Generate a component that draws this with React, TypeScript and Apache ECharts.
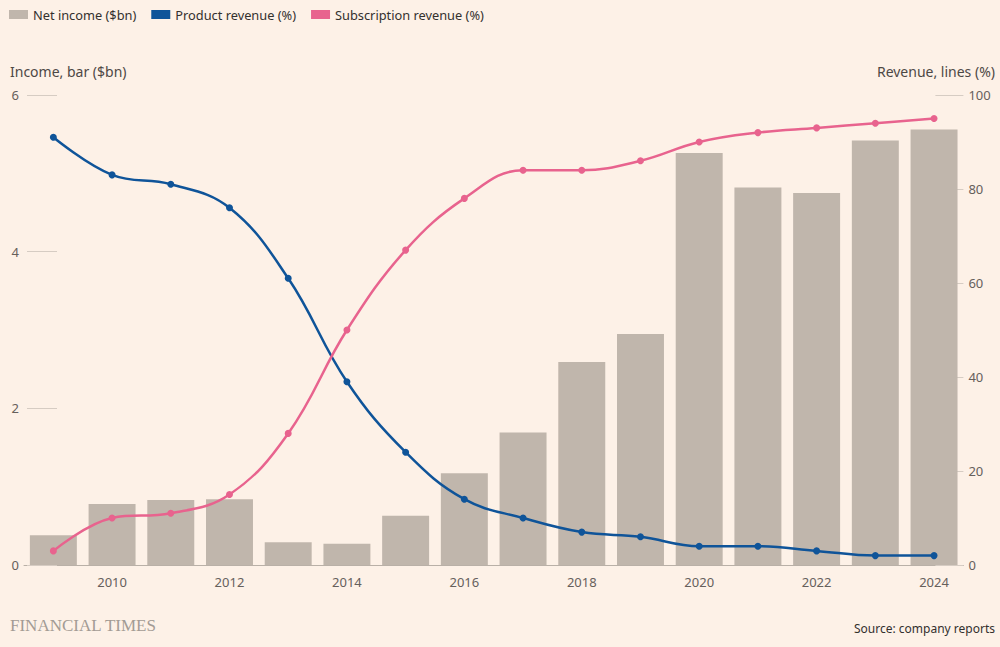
import React, { useEffect, useRef } from "react";
import * as echarts from "echarts";

const years = ["2009","2010","2011","2012","2013","2014","2015","2016","2017","2018","2019","2020","2021","2022","2023","2024"];
const netIncome = [0.38, 0.78, 0.83, 0.84, 0.29, 0.27, 0.63, 1.17, 1.69, 2.59, 2.95, 5.26, 4.82, 4.75, 5.42, 5.56];
const productRevenue = [91, 83, 81, 76, 61, 39, 24, 14, 10, 7, 6, 4, 4, 3, 2, 2];
const subscriptionRevenue = [3, 10, 11, 15, 28, 50, 67, 78, 84, 84, 86, 90, 92, 93, 94, 95];

const BG = "#fdf1e7";
const BAR = "#c0b6ac";
const BLUE = "#0f5499";
const PINK = "#e8638e";
const FONT = "'Noto Sans', sans-serif";

export default function App() {
  const ref = useRef<HTMLDivElement>(null);
  useEffect(() => {
    if (!ref.current) return;
    const chart = echarts.init(ref.current, undefined, { renderer: "svg" });
    chart.setOption({
      animation: false,
      backgroundColor: BG,
      textStyle: { fontFamily: FONT },
      legend: {
        left: 9,
        top: 8,
        padding: 0,
        itemWidth: 19,
        itemHeight: 9,
        itemGap: 15,
        icon: "rect",
        textStyle: { fontSize: 12.8, color: "#33302e", fontFamily: FONT },
        data: ["Net income ($bn)", "Product revenue (%)", "Subscription revenue (%)"],
      },
      grid: { left: 24, right: 36.6, top: 95, bottom: 82 },
      xAxis: {
        type: "category",
        data: years,
        axisLine: { lineStyle: { color: "#b9b0a7", width: 1 } },
        axisTick: {
          alignWithLabel: true,
          length: 6,
          interval: (i: number) => i % 2 === 1,
          lineStyle: { color: "#b9b0a7" },
        },
        axisLabel: {
          interval: (i: number) => i % 2 === 1,
          color: "#66605c",
          fontSize: 13,
          margin: 10,
          fontFamily: FONT,
        },
      },
      yAxis: [
        {
          type: "value",
          min: 0,
          max: 6,
          interval: 2,
          offset: -3,
          axisLine: { show: false },
          splitLine: { show: false },
          axisTick: { show: true, inside: true, length: 30, lineStyle: { color: "#d6ccc3" } },
          axisLabel: { color: "#66605c", fontSize: 13, margin: 8, fontFamily: FONT },
        },
        {
          type: "value",
          min: 0,
          max: 100,
          interval: 20,
          position: "right",
          axisLine: { show: false },
          splitLine: { show: false },
          axisTick: { show: true, inside: true, length: 28, lineStyle: { color: "#d6ccc3" } },
          axisLabel: { color: "#66605c", fontSize: 13, margin: 5, fontFamily: FONT },
        },
      ],
      series: [
        {
          name: "Net income ($bn)",
          type: "bar",
          data: netIncome,
          yAxisIndex: 0,
          barCategoryGap: "20%",
          itemStyle: { color: BAR },
          z: 2,
        },
        {
          name: "Product revenue (%)",
          type: "line",
          data: productRevenue,
          yAxisIndex: 1,
          smooth: 0.4,
          symbol: "circle",
          symbolSize: 7,
          itemStyle: { color: BLUE },
          lineStyle: { color: BLUE, width: 2.5 },
          z: 3,
        },
        {
          name: "Subscription revenue (%)",
          type: "line",
          data: subscriptionRevenue,
          yAxisIndex: 1,
          smooth: 0.4,
          symbol: "circle",
          symbolSize: 7,
          itemStyle: { color: PINK },
          lineStyle: { color: PINK, width: 2.5 },
          z: 4,
        },
      ],
      graphic: [
        {
          type: "text",
          left: 10,
          top: 64,
          style: { text: "Income, bar ($bn)", fontSize: 14, fill: "#4d4845", fontFamily: FONT },
        },
        {
          type: "text",
          right: 5,
          top: 64,
          style: { text: "Revenue, lines (%)", fontSize: 14, fill: "#4d4845", fontFamily: FONT },
        },
        {
          type: "text",
          left: 10,
          top: 617,
          style: {
            text: "FINANCIAL TIMES",
            fontSize: 17,
            fill: "#a39b94",
            fontFamily: "'Liberation Serif', serif",
          },
        },
        {
          type: "text",
          right: 5,
          top: 622,
          style: { text: "Source: company reports", fontSize: 12, fill: "#33302e", fontFamily: FONT },
        },
      ],
    });
    return () => chart.dispose();
  }, []);
  return <div ref={ref} style={{ width: 1000, height: 647, position: "fixed", left: 0, top: 0 }} />;
}
